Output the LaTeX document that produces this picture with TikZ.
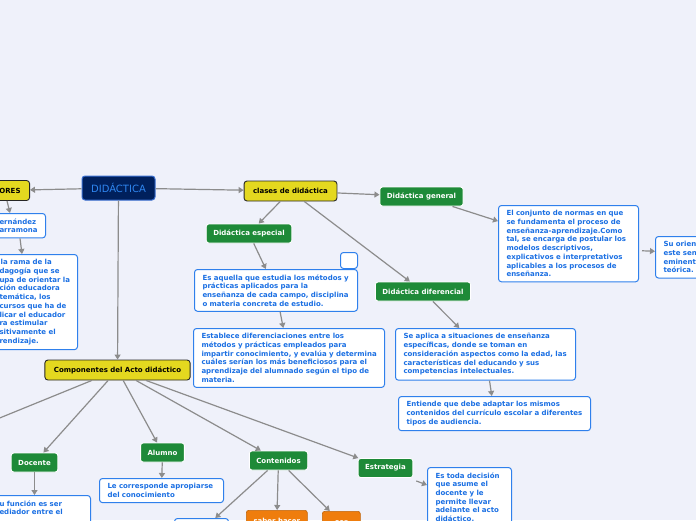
\documentclass[tikz,border=0pt]{standalone}
\usepackage{fontspec}
\setmainfont{DejaVu Sans}
\usetikzlibrary{arrows.meta,calc}
\definecolor{bgc}{HTML}{EFF1FA}
\definecolor{ylw}{HTML}{E4D81F}
\definecolor{grnc}{HTML}{1E8A38}
\definecolor{txtb}{HTML}{1A6FE3}
\definecolor{bdb}{HTML}{2F80EC}
\definecolor{orgc}{HTML}{EF7D0D}
\definecolor{navy}{HTML}{00205C}
\definecolor{navyb}{HTML}{3A6FD0}
\definecolor{navyt}{HTML}{2F86F0}
\definecolor{lnkc}{HTML}{8C8C8C}
\newcommand\mmf{\fontsize{7pt}{8.7pt}\selectfont\bfseries}
\begin{document}
\begin{tikzpicture}[x=1pt,y=-1pt,
 ylwbox/.style={fill=ylw,draw=black!85,line width=0.9pt,rounded corners=3pt,font=\mmf,text=black,minimum height=20pt,inner xsep=9pt,inner ysep=0pt},
 grnbox/.style={fill=grnc,draw=white,line width=0.9pt,rounded corners=2.5pt,font=\mmf,text=white,minimum height=19pt,inner xsep=7pt,inner ysep=0pt},
 txtbox/.style={fill=white,draw=bdb,line width=1pt,rounded corners=3pt,font=\mmf,text=txtb,align=left,inner xsep=8pt,inner ysep=5pt},
 orgbox/.style={fill=orgc,draw=orgc!80!black,line width=0.6pt,rounded corners=2.5pt,font=\mmf,text=white,inner sep=0pt},
 arr/.style={draw=lnkc,line width=1.2pt,-{Triangle[length=5pt,width=6pt]}},
 lnk/.style={draw=lnkc,line width=1.2pt}]
\useasboundingbox (0,0) rectangle (696,520);
\fill[bgc] (0,0) rectangle (696,520);
\begin{scope}
\clip (0,0) rectangle (696,520);
% main nodes
\node[fill=navy,draw=navyb,line width=1pt,rounded corners=3pt,minimum width=73pt,minimum height=24pt,text=navyt,font=\fontsize{10pt}{12pt}\selectfont] (did) at (118.5,188) {DIDÁCTICA};
\node[ylwbox,anchor=east,text width=40pt,align=right] (ores) at (30,190.5) {ORES};
\node[ylwbox] (cla) at (290.5,191) {clases de didáctica};
\node[ylwbox] (comp) at (117.5,370) {Componentes del Acto didáctico};
% green nodes
\node[grnbox] (desp) at (249,233.5) {Didáctica especial};
\node[grnbox] (dgen) at (421.5,196.5) {Didáctica general};
\node[grnbox] (ddif) at (423,291.5) {Didáctica diferencial};
\node[grnbox] (doc) at (34.5,462.5) {Docente};
\node[grnbox] (alu) at (162.5,452.5) {Alumno};
\node[grnbox] (cont) at (278.5,460.5) {Contenidos};
\node[grnbox] (estr) at (385.5,468) {Estrategia};
% text boxes
\node[txtbox,anchor=north east,text width=38pt] (fern) at (46,213) {\mbox{ernández}\\\mbox{arramona}};
\node[txtbox,anchor=north east,text width=70pt] (rama) at (78,254) {\mbox{\,la rama de la}\\\mbox{dagogía que se}\\\mbox{upa de orientar la}\\\mbox{ción educadora}\\\mbox{temática, los}\\\mbox{cursos que ha de}\\\mbox{licar el educador}\\\mbox{ra estimular}\\\mbox{sitivamente el}\\\mbox{rendizaje.}};
\node[txtbox,anchor=north west,minimum width=17pt,minimum height=16pt,inner sep=0pt] (emp) at (340,252) {};
\node[txtbox,anchor=north west,text width=147pt] (espt) at (194,269) {\mbox{Es aquella que estudia los métodos y}\\\mbox{prácticas aplicados para la}\\\mbox{enseñanza de cada campo, disciplina}\\\mbox{o materia concreta de estudio.}};
\node[txtbox,anchor=north west,text width=175pt] (estab) at (193,328) {\mbox{Establece diferenciaciones entre los}\\\mbox{métodos y prácticas empleados para}\\\mbox{impartir conocimiento, y evalúa y determina}\\\mbox{cuáles serían los más beneficiosos para el}\\\mbox{aprendizaje del alumnado según el tipo de}\\\mbox{materia.}};
\node[txtbox,anchor=north west,text width=124pt] (conj) at (498,205) {\mbox{El conjunto de normas en que}\\\mbox{se fundamenta el proceso de}\\\mbox{enseñanza-aprendizaje.Como}\\\mbox{tal, se encarga de postular los}\\\mbox{modelos descriptivos,}\\\mbox{explicativos e interpretativos}\\\mbox{aplicables a los procesos de}\\\mbox{enseñanza.}};
\node[txtbox,anchor=north west,text width=60pt] (suo) at (655,236) {\mbox{Su orien}\\\mbox{este sen}\\\mbox{eminent}\\\mbox{teórica.}};
\node[txtbox,anchor=north west,text width=164pt] (seap) at (395,328) {\mbox{Se aplica a situaciones de enseñanza}\\\mbox{específicas, donde se toman en}\\\mbox{consideración aspectos como la edad, las}\\\mbox{características del educando y sus}\\\mbox{competencias intelectuales.}};
\node[txtbox,anchor=north west,text width=176pt] (ent) at (398,396) {\mbox{Entiende que debe adaptar los mismos}\\\mbox{contenidos del currículo escolar a diferentes}\\\mbox{tipos de audiencia.}};
\node[txtbox,anchor=north west,text width=108pt] (lec) at (99,478) {\mbox{Le corresponde apropiarse}\\\mbox{del conocimiento}};
\node[txtbox,anchor=north west,text width=68pt] (esto) at (427,467) {\mbox{Es toda decisión}\\\mbox{que asume el}\\\mbox{docente y le}\\\mbox{permite llevar}\\\mbox{adelante el acto}\\\mbox{didáctico.}};
\node[txtbox,anchor=north east,text width=83pt] (docb) at (91,495) {\mbox{u función es ser}\\\mbox{ediador entre el}\\\mbox{}};
\node[txtbox,anchor=north west,minimum width=54pt,minimum height=24pt] (cbox) at (174,518) {};
\node[orgbox,anchor=north west,minimum width=61pt,minimum height=22pt] (o1) at (246,510) {saber hacer};
\node[orgbox,anchor=north west,minimum width=38pt,minimum height=22pt] (o2) at (322,511) {ser};
\coordinate (offl) at (-20,426);
% connectors
\draw[arr] (did) -- (ores);
\draw[arr] (did) -- (cla);
\draw[arr] (did) -- (comp);
\draw[arr] ($(ores.south east)+(-23,0)$) -- ($(fern.north east)+(-36,0)$);
\draw[arr] ($(fern.south east)+(-26,0)$) -- ($(rama.north east)+(-56,0)$);
\draw[arr] (cla) -- (desp);
\draw[arr] (cla) -- (dgen);
\draw[arr] (cla) -- (ddif);
\draw[arr] (desp) -- (espt);
\draw[arr] (espt) -- (estab);
\draw[arr] (dgen) -- (conj);
\draw[arr,shorten <=3pt] ($(conj.east)+(0,7)$) -- ($(suo.west)+(0,-6)$);
\draw[arr] (ddif) -- (seap);
\draw[arr] (seap) -- (ent);
\draw[lnk] (comp) -- (offl);
\draw[arr] (comp) -- (doc);
\draw[arr] (comp) -- (alu);
\draw[arr] (comp) -- (cont);
\draw[arr] (comp) -- (estr);
\draw[arr] (alu) -- (lec);
\draw[arr] (doc.south) -- (doc.south |- docb.north);
\draw[arr] ($(estr.south east)+(3,3)$) -- ($(esto.north west)+(0,18)$);
\draw[arr] (cont) -- (cbox);
\draw[arr] (cont) -- (o1);
\draw[arr] (cont) -- (o2);
\end{scope}
\end{tikzpicture}
\end{document}
